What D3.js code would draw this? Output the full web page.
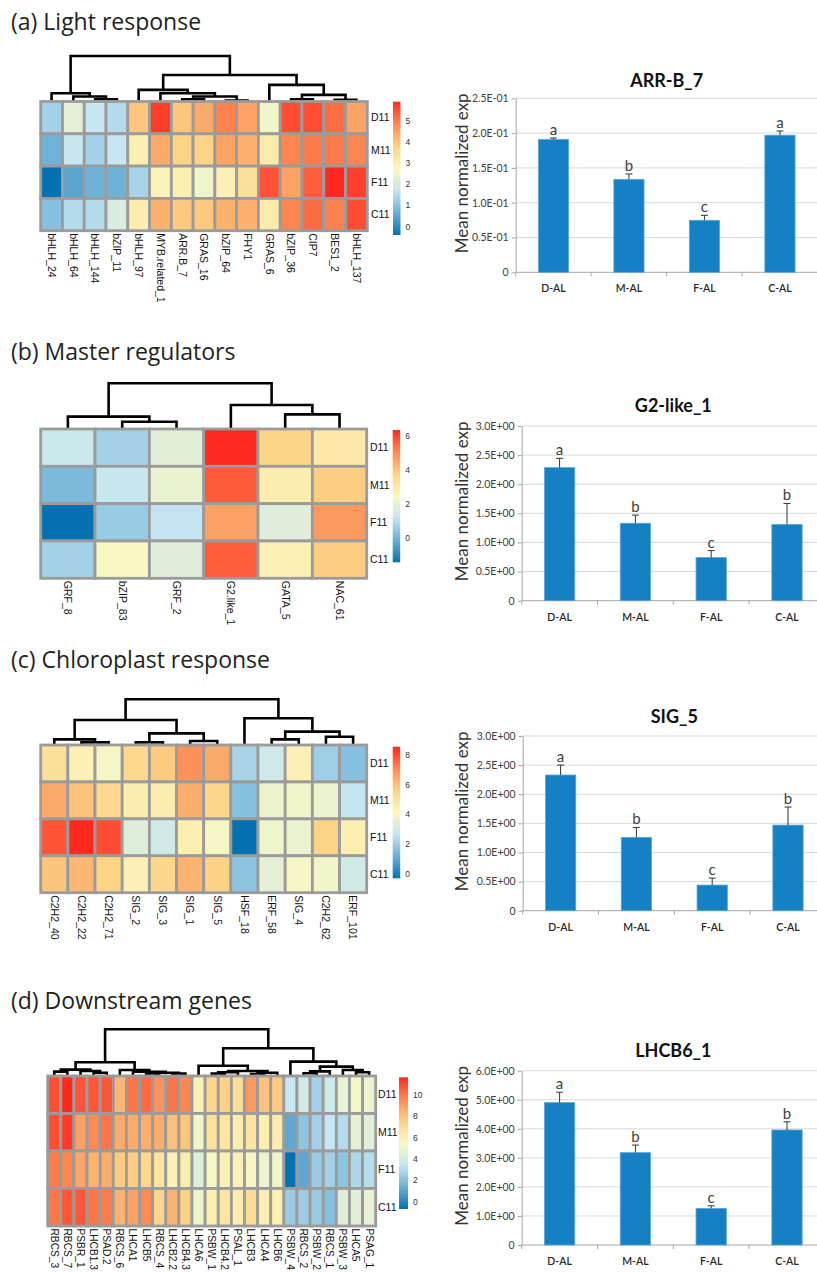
<!DOCTYPE html>
<html>
<head>
<meta charset="utf-8">
<script src="https://cdn.jsdelivr.net/npm/d3@7"></script>
<style>
  body { margin: 0; background: #fff; }
  svg { display: block; }
</style>
</head>
<body>
<svg id="fig" width="817" height="1273"></svg>
<script>
// ---------- shared categories ----------
const conditions = ["D11", "M11", "F11", "C11"];
const groups = ["D-AL", "M-AL", "F-AL", "C-AL"];
const palette = ["#0571b0", "#6aafd6", "#c6e6f1", "#fbf8c0", "#fdd386", "#fc8b55", "#ff2a1f"];

// ---------- (a) Light response ----------
const genesA = ["bHLH_24", "bHLH_64", "bHLH_144", "bZIP_11", "bHLH_97", "MYB.related_1", "ARR.B_7",
  "GRAS_16", "bZIP_64", "FHY1", "GRAS_6", "bZIP_36", "CIP7", "BES1_2", "bHLH_137"];
const exprA = [
  [1.3, 2.3, 1.7, 1.49, 4.0, 5.7, 4.0, 4.4, 4.96, 4.5, 2.56, 5.52, 5.5, 5.18, 4.5],
  [0.73, 1.74, 1.3, 1.7, 3.0, 4.4, 3.8, 3.8, 4.5, 4.3, 3.13, 4.9, 5.02, 5.02, 4.9],
  [-0.4, 0.48, 0.7, 0.7, 1.36, 2.9, 3.0, 2.5, 2.94, 3.44, 5.46, 4.5, 5.33, 5.9, 5.65],
  [0.99, 1.49, 1.49, 2.06, 3.07, 4.3, 3.95, 3.95, 4.3, 4.3, 3.13, 4.9, 5.2, 4.96, 5.52]
];
// [height, left, right]; numbers are column indices
const treeA = [10, [1.82, 0, [1.09, 1, [0.51, 2, 3]]],
  [5.84, [2.55, 4, [1.82, 5, [1.09, [0.51, 6, 7], [0.22, 8, 9]]]],
         [3.65, 10, [1.46, [0.51, 11, 12], [0.37, 13, 14]]]]];
const rangeA = [-0.4, 5.9];
const legendTicksA = [0, 1, 2, 3, 4, 5];

const titleBarA = "ARR-B_7";
const meansA = [0.191, 0.1336, 0.0747, 0.197];
const errsA = [0.002, 0.0077, 0.0072, 0.006];
const lettersA = ["a", "b", "c", "a"];
const ticksA = [0, 0.05, 0.1, 0.15, 0.2, 0.25];
const tickLabelsA = ["0", "0.5E-01", "1.0E-01", "1.5E-01", "2.0E-01", "2.5E-01"];

// ---------- (b) Master regulators ----------
const genesB = ["GRF_8", "bZIP_83", "GRF_2", "G2.like_1", "GATA_5", "NAC_61"];
const exprB = [
  [1.28, 0.65, 1.8, 6.36, 3.7, 3.0],
  [0.1, 1.2, 2.0, 5.7, 2.84, 3.85],
  [-1.46, 0.5, 1.1, 4.64, 1.75, 4.8],
  [0.65, 2.4, 1.75, 5.66, 2.7, 3.85]
];
const treeB = [10, [2.7, 0, [1.6, 1, 2]], [5.26, 3, [3.2, 4, 5]]];
const rangeB = [-1.46, 6.36];
const legendTicksB = [0, 2, 4, 6];

const titleBarB = "G2-like_1";
const meansB = [2.285, 1.33, 0.74, 1.31];
const errsB = [0.16, 0.14, 0.12, 0.36];
const lettersB = ["a", "b", "c", "b"];
const ticksB = [0, 0.5, 1, 1.5, 2, 2.5, 3];
const tickLabelsB = ["0", "0.5E+00", "1.0E+00", "1.5E+00", "2.0E+00", "2.5E+00", "3.0E+00"];

// ---------- (c) Chloroplast response ----------
const genesC = ["C2H2_40", "C2H2_22", "C2H2_71", "SIG_2", "SIG_3", "SIG_1", "SIG_5",
  "HSF_18", "ERF_58", "SIG_4", "C2H2_62", "ERF_101"];
const exprC = [
  [5.1, 4.4, 3.96, 5.37, 5.8, 6.97, 6.44, 2.19, 2.9, 4.4, 2.01, 1.66],
  [6.44, 5.9, 5.37, 4.58, 4.58, 6.35, 5.46, 1.66, 3.69, 3.87, 3.69, 2.63],
  [7.9, 8.56, 8.03, 3.34, 2.9, 4.49, 3.96, -0.29, 3.78, 3.69, 5.6, 4.49],
  [5.9, 6.17, 5.6, 4.4, 5.46, 6.26, 5.64, 1.75, 3.52, 3.96, 3.87, 2.98]
];
const treeC = [10, [5.47, [1.24, 0, [0.58, 1, 2]], [2.55, [0.58, 3, 4], [0.88, 5, 6]]],
  [5.84, 7, [2.92, [1.24, 8, 9], [1.82, 10, 11]]]];
const rangeC = [-0.29, 8.56];
const legendTicksC = [0, 2, 4, 6, 8];

const titleBarC = "SIG_5";
const meansC = [2.33, 1.26, 0.44, 1.47];
const errsC = [0.17, 0.17, 0.12, 0.31];
const lettersC = ["a", "b", "c", "b"];
const ticksC = [0, 0.5, 1, 1.5, 2, 2.5, 3];
const tickLabelsC = ["0", "0.5E+00", "1.0E+00", "1.5E+00", "2.0E+00", "2.5E+00", "3.0E+00"];

// ---------- (d) Downstream genes ----------
const genesD = ["RBCS_3", "RBCS_7", "PSBR_1", "LHCB1.3", "PSAD.2", "RBCS_6", "LHCA1", "LHCB5",
  "RBCS_4", "LHCB2.2", "LHCB4.3", "LHCA6", "PSBW_1", "LHCB4.2", "PSAL_1", "LHCB3", "LHCA4",
  "LHCB6", "PSBW_4", "RBCS_2", "PSBW_2", "RBCS_1", "PSBW_3", "LHCA5", "PSAG_1"];
const exprD = [
  [10.9, 11.66, 10.8, 10.73, 10.73, 8.39, 10.05, 10.3, 9.44, 10.05, 9.69, 5.86, 7.34, 7.59, 6.97, 9.19, 8.02, 7.83, 3.52, 3.89, 2.65, 3.76, 4.75, 5.24, 4.87],
  [10.9, 11.29, 8.95, 9.62, 10.05, 8.7, 8.7, 8.58, 8.64, 8.08, 7.96, 5.12, 6.72, 6.6, 6.11, 6.6, 5.98, 6.11, 1.11, 2.16, 2.65, 3.45, 3.02, 4.63, 4.5],
  [9.93, 9.69, 8.82, 8.45, 8.64, 7.71, 7.71, 7.34, 6.6, 5.86, 6.11, 4.26, 5.37, 5.86, 5.86, 5.24, 4.87, 5.06, -0.68, 1.11, 2.47, 2.65, 2.16, 2.9, 3.08],
  [10.05, 10.73, 10.73, 10.05, 9.93, 8.45, 8.95, 9.62, 7.34, 8.45, 7.59, 5.0, 5.98, 6.6, 6.11, 6.97, 5.98, 5.98, 2.47, 2.47, 2.47, 2.0, 4.38, 4.5, 4.75]
];
const treeD = [10,
  [2.93, [1.36, [0.93, 0, 1], [1.07, 2, [0.71, 3, 4]]],
         [1.29, 5, [0.9, 6, [0.7, [0.4, 7, 8], [0.5, 9, 10]]]]],
  [5.93, [2.2, 11, [1.07, [0.79, [0.5, 12, 13], 14], [0.71, [0.4, 15, 16], 17]]],
         [3.07, 18, [2.0, [1.0, [0.6, 19, 20], 21], [1.29, 22, [0.79, 23, 24]]]]]];
const rangeD = [-0.68, 11.66];
const legendTicksD = [0, 2, 4, 6, 8, 10];

const titleBarD = "LHCB6_1";
const meansD = [4.90, 3.18, 1.26, 3.96];
const errsD = [0.36, 0.26, 0.09, 0.28];
const lettersD = ["a", "b", "c", "b"];
const ticksD = [0, 1, 2, 3, 4, 5, 6];
const tickLabelsD = ["0", "1.0E+00", "2.0E+00", "3.0E+00", "4.0E+00", "5.0E+00", "6.0E+00"];

// ---------- drawing ----------
const svg = d3.select("#fig");
const heatFont = "'Liberation Sans', Arial, sans-serif";
const barFont = "Lato, 'Open Sans', sans-serif";

function heatmap(id, genes, expr, tree, range, legendTicks, L) {
  const g = svg.append("g");
  const n = genes.length;
  const x = d3.scaleBand().domain(d3.range(n)).range([L.x0, L.x1]);
  const y = d3.scaleBand().domain(conditions).range([L.gTop, L.gBot]);
  const stops = palette.map((_, i) => range[0] + (range[1] - range[0]) * i / (palette.length - 1));
  const color = d3.scaleLinear().domain(stops).range(palette).clamp(true);

  // column dendrogram
  const hy = d3.scaleLinear().domain([0, tree[0]]).range([L.gTop, L.dTop]);
  const dendro = g.append("g").attr("fill", "none").attr("stroke", "#000")
    .attr("stroke-width", 2.6).attr("stroke-linejoin", "miter");
  (function walk(node) {
    if (typeof node === "number") return { x: x(node) + x.bandwidth() / 2, h: 0 };
    const [h, a, b] = node;
    const l = walk(a), r = walk(b);
    dendro.append("path").attr("d", `M${l.x},${hy(l.h)}V${hy(h)}H${r.x}V${hy(r.h)}`);
    return { x: (l.x + r.x) / 2, h };
  })(tree);

  // cells
  conditions.forEach((c, r) => {
    g.append("g").selectAll("rect").data(expr[r]).join("rect")
      .attr("x", (d, i) => x(i)).attr("y", y(c))
      .attr("width", x.bandwidth()).attr("height", y.bandwidth())
      .attr("fill", d => color(d))
      .attr("stroke", "#9b9b9b").attr("stroke-width", 2.8);
  });

  // row labels
  g.append("g").selectAll("text").data(conditions).join("text")
    .attr("x", L.rowX).attr("y", d => y(d) + y.bandwidth() / 2).attr("dy", "0.35em")
    .attr("font-family", heatFont).attr("font-size", 10.5).attr("fill", "#111")
    .text(d => d);

  // column labels
  g.append("g").selectAll("text").data(genes).join("text")
    .attr("transform", (d, i) => `translate(${x(i) + x.bandwidth() / 2},${L.gBot + 2.5}) rotate(90)`)
    .attr("dy", "0.35em")
    .attr("font-family", heatFont).attr("font-size", L.labelSize).attr("fill", "#111")
    .text(d => d);

  // colour key
  const grad = svg.append("defs").append("linearGradient").attr("id", id)
    .attr("x1", 0).attr("y1", 1).attr("x2", 0).attr("y2", 0);
  d3.range(21).forEach(k => {
    const t = k / 20;
    grad.append("stop").attr("offset", t).attr("stop-color", color(range[0] + t * (range[1] - range[0])));
  });
  g.append("rect").attr("x", L.lx).attr("y", L.ly0).attr("width", L.lw).attr("height", L.ly1 - L.ly0)
    .attr("fill", `url(#${id})`);
  const ly = d3.scaleLinear().domain(range).range([L.ly1, L.ly0]);
  g.append("g").selectAll("text").data(legendTicks).join("text")
    .attr("x", L.lx + L.lw + 5).attr("y", d => ly(d)).attr("dy", "0.35em")
    .attr("font-family", heatFont).attr("font-size", 8.5).attr("fill", "#333")
    .text(d => d);
}

function barChart(title, means, errs, letters, ticks, tickLabels, L) {
  const g = svg.append("g");
  const right = L.left + 4 * L.step;
  const x = d3.scaleBand().domain(groups).range([L.left, right]);
  const y = d3.scaleLinear().domain([0, ticks[ticks.length - 1]]).range([L.zeroY, L.topY]);

  // gridlines
  g.append("g").selectAll("line").data(ticks.slice(1)).join("line")
    .attr("x1", L.left).attr("x2", right)
    .attr("y1", d => y(d)).attr("y2", d => y(d))
    .attr("stroke", "#d9d9d9").attr("stroke-width", 1);

  // y axis
  const ya = g.append("g").attr("transform", `translate(${L.left},0)`)
    .call(d3.axisLeft(y).tickValues(ticks).tickFormat((d, i) => tickLabels[i])
      .tickSize(4).tickSizeOuter(0).tickPadding(3));
  ya.attr("font-family", barFont).attr("font-size", 10.5);
  ya.select(".domain").attr("stroke", "#a6a6a6");
  ya.selectAll(".tick line").attr("stroke", "#a6a6a6");
  ya.selectAll(".tick text").attr("fill", "#404040");

  // x axis: baseline, boundary ticks, category labels
  g.append("line").attr("x1", L.left).attr("x2", right).attr("y1", L.zeroY).attr("y2", L.zeroY)
    .attr("stroke", "#a6a6a6");
  g.append("g").selectAll("line").data(d3.range(5)).join("line")
    .attr("x1", i => L.left + i * x.step()).attr("x2", i => L.left + i * x.step())
    .attr("y1", L.zeroY).attr("y2", L.zeroY + 4).attr("stroke", "#a6a6a6");
  g.append("g").selectAll("text").data(groups).join("text")
    .attr("x", d => x(d) + x.bandwidth() / 2).attr("y", L.zeroY + 20)
    .attr("text-anchor", "middle").attr("font-family", barFont).attr("font-size", 10.5)
    .attr("font-weight", 600).attr("fill", "#262626")
    .text(d => d);

  // bars
  const bw = x.bandwidth() * 0.4;
  g.append("g").selectAll("rect").data(means).join("rect")
    .attr("x", (d, i) => x(groups[i]) + (x.bandwidth() - bw) / 2)
    .attr("y", d => y(d)).attr("width", bw).attr("height", d => L.zeroY - y(d))
    .attr("fill", "#1580c4").attr("stroke", "#5ba6dc").attr("stroke-width", 0.8);

  // error bars (upper only)
  const eb = g.append("g").attr("stroke", "#333").attr("stroke-width", 1);
  means.forEach((m, i) => {
    const cx = x(groups[i]) + x.bandwidth() / 2;
    eb.append("line").attr("x1", cx).attr("x2", cx).attr("y1", y(m)).attr("y2", y(m + errs[i]));
    eb.append("line").attr("x1", cx - 3.5).attr("x2", cx + 3.5).attr("y1", y(m + errs[i])).attr("y2", y(m + errs[i]));
  });

  // significance letters
  g.append("g").selectAll("text").data(letters).join("text")
    .attr("x", (d, i) => x(groups[i]) + x.bandwidth() / 2)
    .attr("y", (d, i) => y(means[i] + errs[i]) - 3)
    .attr("text-anchor", "middle").attr("font-family", barFont).attr("font-size", 15)
    .attr("fill", "#404040").text(d => d);

  // titles
  g.append("text").attr("x", L.left + 2 * x.step()).attr("y", L.titleY)
    .attr("text-anchor", "middle").attr("font-family", barFont).attr("font-weight", 700)
    .attr("font-size", 18).attr("fill", "#111").text(title);
  g.append("text")
    .attr("transform", `translate(461.7,${(L.zeroY + L.topY) / 2 - 12}) rotate(-90)`)
    .attr("dy", "0.35em").attr("text-anchor", "middle")
    .attr("font-family", barFont).attr("font-size", 17).attr("fill", "#333")
    .text("Mean normalized exp");
}

function panelTitle(text, yBase) {
  svg.append("text").attr("x", 11).attr("y", yBase)
    .attr("font-family", "'Open Sans', sans-serif").attr("font-size", 23).attr("fill", "#231f20")
    .text(text);
}

panelTitle("(a) Light response", 30);
panelTitle("(b) Master regulators", 360);
panelTitle("(c) Chloroplast response", 668);
panelTitle("(d) Downstream genes", 1009);

heatmap("keyA", genesA, exprA, treeA, rangeA, legendTicksA,
  { x0: 40.7, x1: 367.3, dTop: 56, gTop: 101.5, gBot: 230.7, rowX: 371, labelSize: 10.5,
    lx: 393, lw: 7.5, ly0: 101.7, ly1: 235 });
heatmap("keyB", genesB, exprB, treeB, rangeB, legendTicksB,
  { x0: 40.7, x1: 366.7, dTop: 383.3, gTop: 429, gBot: 578.3, rowX: 370, labelSize: 10.5,
    lx: 392.7, lw: 7.5, ly0: 430, ly1: 562.3 });
heatmap("keyC", genesC, exprC, treeC, rangeC, legendTicksC,
  { x0: 40.7, x1: 366.7, dTop: 699.3, gTop: 745, gBot: 892.7, rowX: 370, labelSize: 10.5,
    lx: 392.7, lw: 7.5, ly0: 746.7, ly1: 878.3 });
heatmap("keyD", genesD, exprD, treeD, rangeD, legendTicksD,
  { x0: 47.7, x1: 375.7, dTop: 1029.3, gTop: 1076, gBot: 1226, rowX: 378, labelSize: 10.2,
    lx: 399, lw: 9, ly0: 1077.3, ly1: 1209 });

barChart(titleBarA, meansA, errsA, lettersA, ticksA, tickLabelsA,
  { left: 515.7, step: 75.5, zeroY: 272.3, topY: 98.3, titleY: 87 });
barChart(titleBarB, meansB, errsB, lettersB, ticksB, tickLabelsB,
  { left: 521.7, step: 75.8, zeroY: 600.7, topY: 426, titleY: 411.7 });
barChart(titleBarC, meansC, errsC, lettersC, ticksC, tickLabelsC,
  { left: 522.7, step: 75.8, zeroY: 910.7, topY: 736, titleY: 722.7 });
barChart(titleBarD, meansD, errsD, lettersD, ticksD, tickLabelsD,
  { left: 521.7, step: 75.8, zeroY: 1245, topY: 1070.7, titleY: 1056.7 });
</script>
</body>
</html>
